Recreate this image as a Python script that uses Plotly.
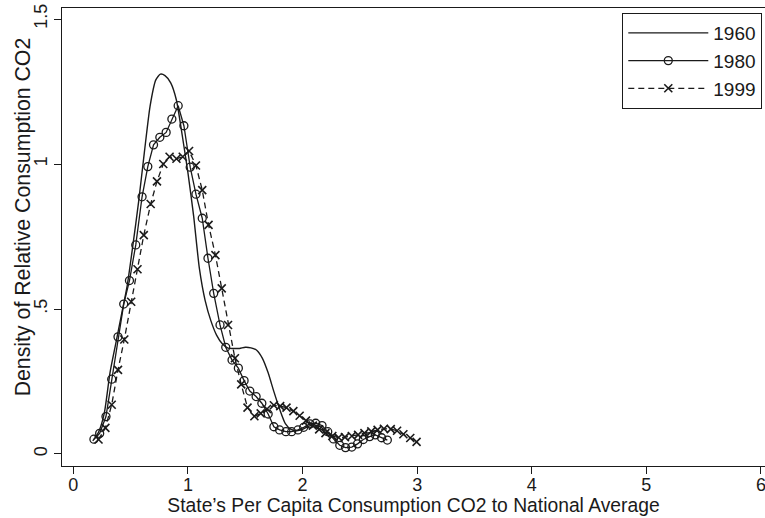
import plotly.graph_objects as go

# ---- data ----
x1960 = [0.17, 0.22, 0.27, 0.32, 0.37, 0.42, 0.47, 0.52, 0.57, 0.62, 0.67, 0.72, 0.76, 0.80,
         0.85, 0.90, 0.95, 1.00, 1.05, 1.10, 1.15, 1.20, 1.25, 1.30, 1.35, 1.40, 1.45, 1.50,
         1.55, 1.60, 1.65, 1.70, 1.75, 1.80, 1.85, 1.90, 1.95, 2.00, 2.05, 2.10, 2.15, 2.20,
         2.25, 2.30]
y1960 = [0.045, 0.075, 0.14, 0.28, 0.38, 0.48, 0.58, 0.72, 0.87, 1.04, 1.20, 1.29, 1.31, 1.305,
         1.28, 1.22, 1.10, 0.97, 0.82, 0.64, 0.53, 0.46, 0.41, 0.38, 0.365, 0.364, 0.364, 0.368,
         0.366, 0.358, 0.33, 0.28, 0.215, 0.155, 0.105, 0.085, 0.08, 0.085, 0.095, 0.10, 0.095, 0.08,
         0.062, 0.048]

x1980 = [0.18, 0.23, 0.285, 0.335, 0.39, 0.44, 0.49, 0.545, 0.60, 0.65, 0.70, 0.755, 0.81, 0.86,
         0.915, 0.965, 1.02, 1.07, 1.125, 1.175, 1.225, 1.28, 1.33, 1.385, 1.44, 1.49, 1.54, 1.595,
         1.645, 1.70, 1.75, 1.80, 1.855, 1.905, 1.96, 2.01, 2.065, 2.115, 2.17, 2.22, 2.27, 2.325,
         2.375, 2.43, 2.48, 2.53, 2.585, 2.635, 2.69, 2.74]
y1980 = [0.051, 0.071, 0.129, 0.258, 0.404, 0.517, 0.598, 0.721, 0.887, 0.991, 1.066, 1.092, 1.109, 1.155,
         1.201, 1.132, 0.989, 0.896, 0.813, 0.675, 0.554, 0.445, 0.368, 0.324, 0.296, 0.253, 0.217, 0.198,
         0.175, 0.138, 0.094, 0.083, 0.077, 0.077, 0.083, 0.092, 0.104, 0.106, 0.098, 0.077, 0.052, 0.030,
         0.022, 0.024, 0.035, 0.050, 0.060, 0.066, 0.056, 0.048]

x1999 = [0.22, 0.28, 0.335, 0.39, 0.445, 0.505, 0.56, 0.615, 0.675, 0.73, 0.785, 0.84, 0.90, 0.955,
         1.01, 1.07, 1.125, 1.18, 1.24, 1.295, 1.35, 1.41, 1.465, 1.52, 1.58, 1.635, 1.69, 1.75,
         1.805, 1.86, 1.92, 1.975, 2.03, 2.09, 2.145, 2.20, 2.26, 2.315, 2.37, 2.43, 2.485, 2.54,
         2.60, 2.655, 2.71, 2.77, 2.825, 2.88, 2.94, 2.995]
y1999 = [0.05, 0.09, 0.17, 0.29, 0.395, 0.525, 0.637, 0.755, 0.862, 0.94, 1.0, 1.025, 1.018, 1.025,
         1.045, 0.995, 0.91, 0.79, 0.686, 0.571, 0.445, 0.33, 0.24, 0.16, 0.13, 0.14, 0.155, 0.168,
         0.165, 0.16, 0.148, 0.132, 0.115, 0.098, 0.085, 0.072, 0.062, 0.057, 0.058, 0.062, 0.066, 0.072,
         0.078, 0.083, 0.087, 0.086, 0.08, 0.068, 0.055, 0.042]

xticks = [0, 1, 2, 3, 4, 5, 6]
xticklabels = ["0", "1", "2", "3", "4", "5", "6"]
yticks = [0, 0.5, 1, 1.5]
yticklabels = ["0", ".5", "1", "1.5"]

x_title = "State\u2019s Per Capita Consumption CO2 to National Average"
y_title = "Density of Relative Consumption CO2"

FONT = "Liberation Sans, Arial, sans-serif"
INK = "#1a1a1a"

fig = go.Figure()
fig.add_trace(go.Scatter(x=x1960, y=y1960, mode="lines", name="1960",
                         line=dict(color=INK, width=1.4, shape="spline", smoothing=0.6)))
fig.add_trace(go.Scatter(x=x1980, y=y1980, mode="lines+markers", name="1980",
                         line=dict(color=INK, width=1.3),
                         marker=dict(symbol="circle-open", size=8, color=INK,
                                     line=dict(width=1.3, color=INK))))
fig.add_trace(go.Scatter(x=x1999, y=y1999, mode="lines+markers", name="1999",
                         line=dict(color=INK, width=1.3, dash="6px,4px"),
                         marker=dict(symbol="x-thin-open", size=8, color=INK,
                                     line=dict(width=1.6, color=INK))))

fig.update_layout(
    width=765, height=518,
    margin=dict(l=62, r=0, t=8, b=52),
    paper_bgcolor="white", plot_bgcolor="white",
    font=dict(family=FONT, size=18, color=INK),
    showlegend=True,
    legend=dict(x=0.797, y=0.989, xanchor="left", yanchor="top",
                bordercolor=INK, borderwidth=1, bgcolor="white",
                font=dict(family=FONT, size=19, color=INK),
                itemwidth=80, tracegroupgap=4),
    annotations=[dict(text=y_title, textangle=-90, xref="paper", yref="paper",
                      x=-0.0555, y=0.545, xanchor="center", yanchor="middle",
                      showarrow=False, font=dict(family=FONT, size=21.3, color=INK))],
)
fig.update_xaxes(range=[-0.0986, 6.035], tickvals=xticks, ticktext=xticklabels,
                 showgrid=False, zeroline=False, showline=True, linecolor=INK, linewidth=1.2,
                 mirror=True, ticks="outside", ticklen=7, tickwidth=1.2, tickcolor=INK,
                 ticklabeloverflow="allow", ticklabelstandoff=-5,
                 tickfont=dict(family=FONT, size=18, color=INK),
                 title=dict(text=x_title,
                            font=dict(family=FONT, size=19.3, color=INK), standoff=2))
fig.update_yaxes(range=[-0.0414, 1.538], tickvals=yticks, ticktext=yticklabels,
                 showgrid=False, zeroline=False, showline=True, linecolor=INK, linewidth=1.2,
                 mirror=True, ticks="outside", ticklen=7, tickwidth=1.2, tickcolor=INK,
                 tickangle=-90,
                 tickfont=dict(family=FONT, size=18, color=INK))

fig.write_html("out.html")
